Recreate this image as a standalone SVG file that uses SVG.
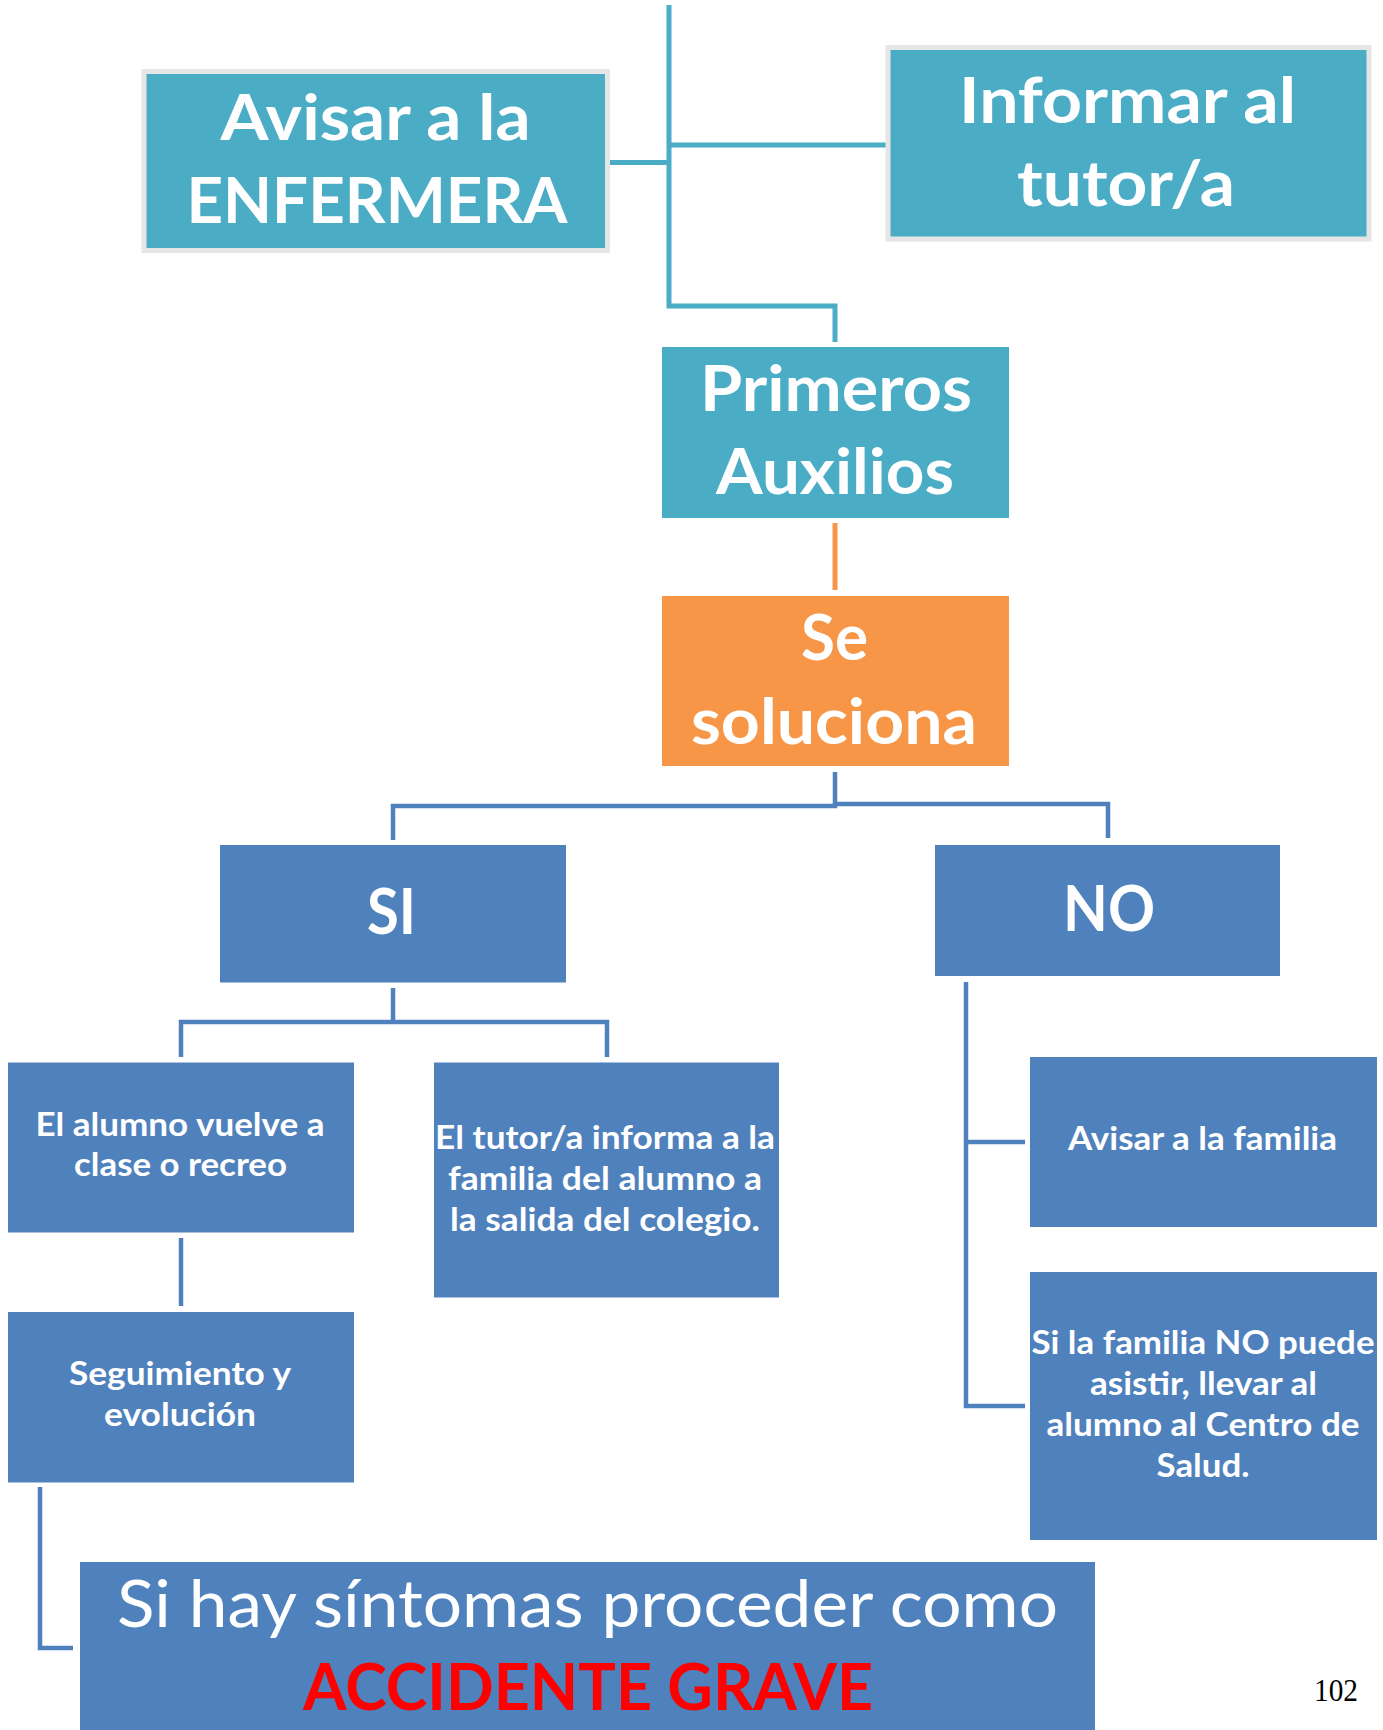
<svg xmlns="http://www.w3.org/2000/svg" width="1383" height="1730" viewBox="0 0 1383 1730">
<style>
.teal{fill:#4BACC6}
.tealb{fill:#4BACC6;stroke:#E6E6E6;stroke-width:5}
.orange{fill:#F79646}
.blue{fill:#4F81BD}
.t{font-family:Lato,"Open Sans","Liberation Sans",sans-serif;fill:#FFFFFF;text-anchor:middle}
.big{font-size:64px;font-weight:700}
.sm{font-size:32px;font-weight:700}
.lt{fill:none;stroke:#4BACC6;stroke-width:5}
.lo{fill:none;stroke:#F79646;stroke-width:5}
.lb{fill:none;stroke:#4F81BD;stroke-width:4.5}
</style>
<rect width="1383" height="1730" fill="#FFFFFF"/>
<g id="connectors">
<path class="lt" d="M669,5 V306 H835 V342"/>
<path class="lt" d="M608,162.5 H669"/>
<path class="lt" d="M669,145 H886"/>
<path class="lo" d="M835,523 V590"/>
<path class="lb" d="M835,772 V806 H393 V840"/>
<path class="lb" d="M835,804 H1108 V838"/>
<path class="lb" d="M393,988 V1022"/>
<path class="lb" d="M181,1057 V1022 H607 V1057"/>
<path class="lb" d="M181,1238 V1306"/>
<path class="lb" d="M966,982 V1406 H1025"/>
<path class="lb" d="M966,1142 H1025"/>
<path class="lb" d="M40,1487 V1648 H73"/>
</g>
<g id="avisar-enfermera">
<rect class="tealb" x="144" y="71.5" width="463.5" height="179"/>
<text class="t big" x="375.5" y="140" textLength="310" lengthAdjust="spacingAndGlyphs">Avisar a la</text>
<text class="t big" x="377" y="223" textLength="381" lengthAdjust="spacingAndGlyphs">ENFERMERA</text>
</g>
<g id="informar-tutor">
<rect class="tealb" x="888" y="47.5" width="481" height="191.5"/>
<text class="t big" x="1127.5" y="123" textLength="337" lengthAdjust="spacingAndGlyphs">Informar al</text>
<text class="t big" x="1126" y="205.5" textLength="218" lengthAdjust="spacingAndGlyphs">tutor/a</text>
</g>
<g id="primeros-auxilios">
<rect class="teal" x="662" y="347" width="347" height="171"/>
<text class="t big" x="836" y="410.5" textLength="272" lengthAdjust="spacingAndGlyphs">Primeros</text>
<text class="t big" x="835" y="494" textLength="238" lengthAdjust="spacingAndGlyphs">Auxilios</text>
</g>
<g id="se-soluciona">
<rect class="orange" x="662" y="596" width="347" height="170"/>
<text class="t big" x="834.5" y="660" textLength="67" lengthAdjust="spacingAndGlyphs">Se</text>
<text class="t big" x="834" y="744" textLength="286" lengthAdjust="spacingAndGlyphs">soluciona</text>
</g>
<g id="si">
<rect class="blue" x="220" y="845" width="346" height="137.5"/>
<text class="t big" x="391.5" y="934" textLength="49" lengthAdjust="spacingAndGlyphs">SI</text>
</g>
<g id="no">
<rect class="blue" x="935" y="845" width="345" height="131"/>
<text class="t big" x="1109" y="931" textLength="92" lengthAdjust="spacingAndGlyphs">NO</text>
</g>
<g id="alumno-vuelve">
<rect class="blue" x="8" y="1062.5" width="346" height="170"/>
<text class="t sm" x="180" y="1136" textLength="289" lengthAdjust="spacingAndGlyphs">El alumno vuelve a</text>
<text class="t sm" x="180.5" y="1176" textLength="213" lengthAdjust="spacingAndGlyphs">clase o recreo</text>
</g>
<g id="tutor-informa">
<rect class="blue" x="434" y="1062.5" width="345" height="235"/>
<text class="t sm" x="605" y="1149" textLength="340" lengthAdjust="spacingAndGlyphs">El tutor/a informa a la</text>
<text class="t sm" x="605" y="1190" textLength="314" lengthAdjust="spacingAndGlyphs">familia del alumno a</text>
<text class="t sm" x="605" y="1231" textLength="310" lengthAdjust="spacingAndGlyphs">la salida del colegio.</text>
</g>
<g id="seguimiento">
<rect class="blue" x="8" y="1312" width="346" height="170.5"/>
<text class="t sm" x="180" y="1385" textLength="222" lengthAdjust="spacingAndGlyphs">Seguimiento y</text>
<text class="t sm" x="180" y="1426" textLength="152" lengthAdjust="spacingAndGlyphs">evolución</text>
</g>
<g id="avisar-familia">
<rect class="blue" x="1030" y="1057" width="347" height="170"/>
<text class="t sm" x="1202.5" y="1150" textLength="269" lengthAdjust="spacingAndGlyphs">Avisar a la familia</text>
</g>
<g id="centro-salud">
<rect class="blue" x="1030" y="1272" width="347" height="268"/>
<text class="t sm" x="1203" y="1354" textLength="343" lengthAdjust="spacingAndGlyphs">Si la familia NO puede</text>
<text class="t sm" x="1203.5" y="1395" textLength="227" lengthAdjust="spacingAndGlyphs">asistir, llevar al</text>
<text class="t sm" x="1203" y="1436" textLength="313" lengthAdjust="spacingAndGlyphs">alumno al Centro de</text>
<text class="t sm" x="1203" y="1477" textLength="93" lengthAdjust="spacingAndGlyphs">Salud.</text>
</g>
<g id="accidente-grave">
<rect class="blue" x="80" y="1562" width="1015" height="168"/>
<text class="t" x="587.5" y="1627" font-size="65" font-weight="400" textLength="941" lengthAdjust="spacingAndGlyphs">Si hay síntomas proceder como</text>
<text class="t" x="588" y="1710" font-size="65" font-weight="700" fill="#FF0000" style="fill:#FF0000" textLength="570" lengthAdjust="spacingAndGlyphs">ACCIDENTE GRAVE</text>
</g>
<text x="1336" y="1701" font-family="'Liberation Serif',serif" font-size="31" fill="#000000" text-anchor="middle" textLength="44" lengthAdjust="spacingAndGlyphs">102</text>
</svg>
